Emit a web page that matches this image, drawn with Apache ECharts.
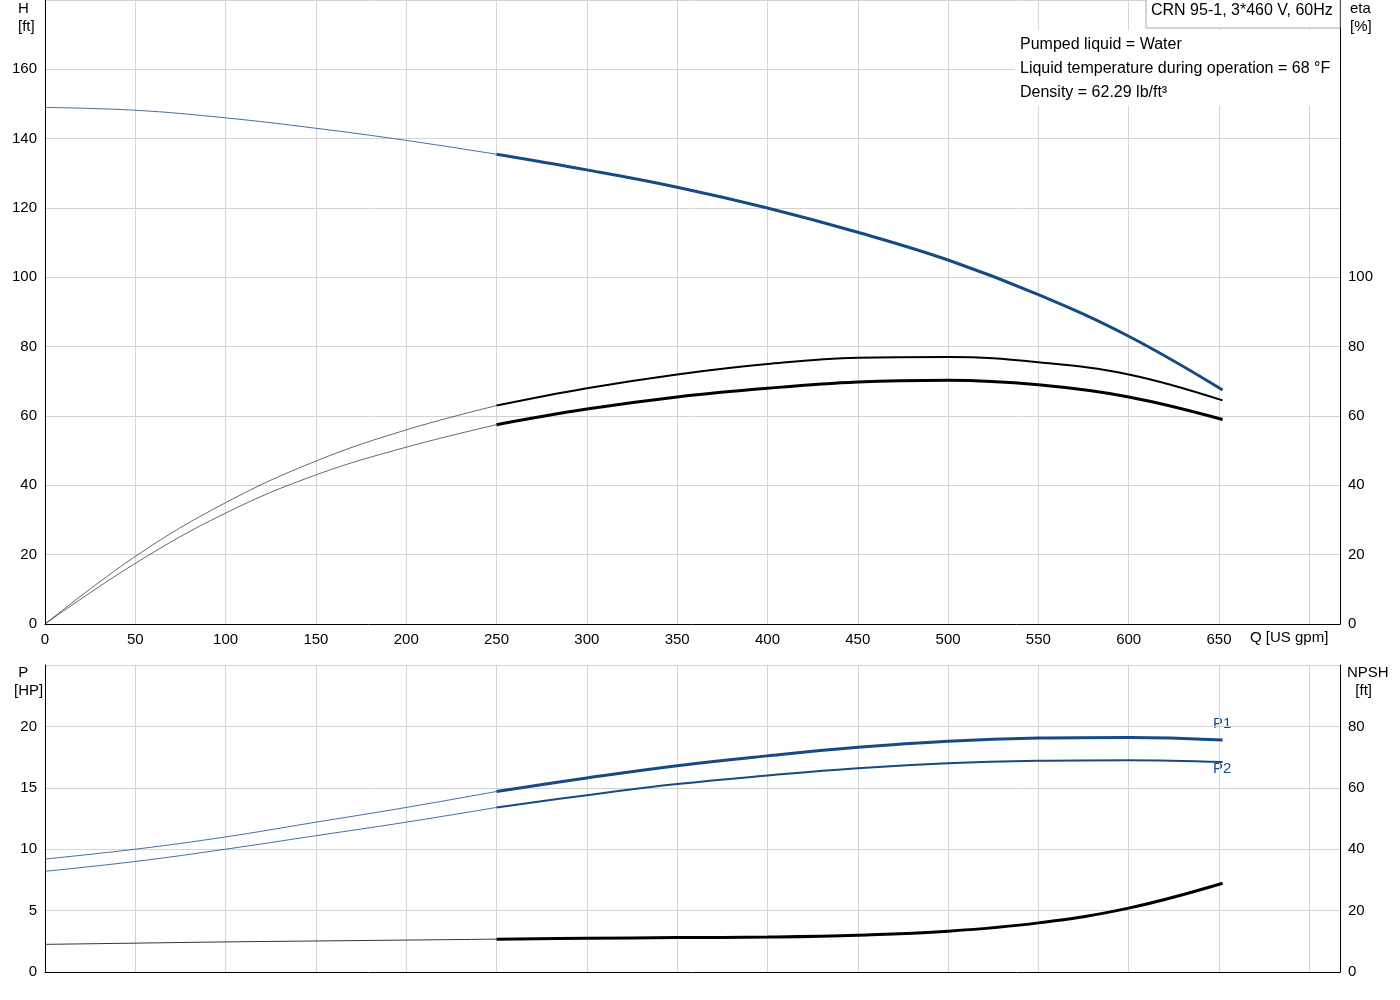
<!DOCTYPE html><html><head><meta charset="utf-8">
<script src="https://cdn.jsdelivr.net/npm/echarts@6/dist/echarts.min.js"></script>
<style>body{margin:0}#c{width:1400px;height:1000px}</style></head><body><div id="c"></div><script>
const q = [0,50,100,150,200,250,300,350,400,450,500,550,600,652];
const H = [149,148.2,146,143,139.5,135.5,131,126,120,113,105,95,83,67.5];
const eta1 = [0,19.5,35,47,56,63,68,72,75,76.8,77,75.5,72,64.5];
const eta2 = [0,17.5,32,43,51,57.5,62,65.5,68,69.8,70.3,69,65.5,59];
const P1 = [9.2,10,11,12.2,13.4,14.7,15.8,16.8,17.6,18.3,18.8,19.05,19.1,18.9];
const P2 = [8.2,9,10,11.1,12.2,13.4,14.4,15.3,16.0,16.6,17.0,17.2,17.25,17.1];
const npsh = [9,9.4,9.8,10.1,10.4,10.7,11,11.2,11.4,12,13.3,16,20.8,28.9];
const BLUE='#174a84', F='Arial, Liberation Sans, sans-serif';
const pairs=(ys,a,b)=>q.map((x,i)=>[x,ys[i]]).filter(p=>p[0]>=a&&p[0]<=b);
function seg(name,ys,xi,yi,color,w1,w2){return [
 {type:'line',name,xAxisIndex:xi,yAxisIndex:yi,data:pairs(ys,0,250),smooth:0.4,symbol:'none',lineStyle:{color,width:w1}},
 {type:'line',name,xAxisIndex:xi,yAxisIndex:yi,data:pairs(ys,250,700),smooth:0.4,symbol:'none',lineStyle:{color,width:w2}}];}
const gl={show:true,lineStyle:{color:'#d4d4d4'}};
const lbl={color:'#000',fontSize:15,fontFamily:F};
const ch=echarts.init(document.getElementById('c'));
ch.setOption({animation:false,
grid:[{left:45,right:60,top:0,height:624},{left:45,right:60,top:665,height:307}],
xAxis:[{gridIndex:0,type:'value',min:0,max:717,interval:50,axisLine:{lineStyle:{color:'#000'}},axisTick:{show:false},splitLine:gl,
  axisLabel:{...lbl,formatter:v=>v>650?'':v}},
 {gridIndex:1,type:'value',min:0,max:717,interval:50,axisLine:{lineStyle:{color:'#000'}},axisTick:{show:false},splitLine:gl,axisLabel:{show:false}}],
yAxis:[{gridIndex:0,min:0,max:180,interval:20,axisLine:{show:true,lineStyle:{color:'#000'}},axisTick:{show:false},splitLine:gl,axisLabel:{...lbl,formatter:v=>v>160?'':v}},
 {gridIndex:0,position:'right',min:0,max:180,interval:20,axisLine:{show:true,lineStyle:{color:'#000'}},axisTick:{show:false},splitLine:{show:false},axisLabel:{...lbl,formatter:v=>v>100?'':v}},
 {gridIndex:1,min:0,max:25,interval:5,axisLine:{show:true,lineStyle:{color:'#000'}},axisTick:{show:false},splitLine:gl,axisLabel:{...lbl,formatter:v=>v>20?'':v}},
 {gridIndex:1,position:'right',min:0,max:100,interval:20,axisLine:{show:true,lineStyle:{color:'#000'}},axisTick:{show:false},splitLine:{show:false},axisLabel:{...lbl,formatter:v=>v>80?'':v}}],
series:[...seg('H',H,0,0,BLUE,0.8,3),...seg('eta1',eta1,0,1,'#000',0.6,2),...seg('eta2',eta2,0,1,'#000',0.6,3),
 ...seg('P1',P1,1,2,BLUE,0.8,3),...seg('P2',P2,1,2,BLUE,0.8,2),...seg('NPSH',npsh,1,3,'#000',0.8,3)],
graphic:[
 {type:'text',left:18,top:0,style:{text:'H\n[ft]',font:'15px '+F,align:'center',lineHeight:18}},
 {type:'text',left:1350,top:0,style:{text:'eta\n[%]',font:'15px '+F,lineHeight:18}},
 {type:'text',left:1250,top:630,style:{text:'Q [US gpm]',font:'15px '+F}},
 {type:'text',left:14,top:664,style:{text:' P\n[HP]',font:'15px '+F,lineHeight:18}},
 {type:'text',left:1347,top:664,style:{text:'NPSH\n  [ft]',font:'15px '+F,lineHeight:18}},
 {type:'rect',z:100,shape:{x:1146,y:-1,width:194,height:29},style:{fill:'#fff',stroke:'#aaa'}},
 {type:'text',z:101,left:1151,top:3,style:{text:'CRN 95-1, 3*460 V, 60Hz',font:'16px '+F}},
 {type:'rect',z:100,shape:{x:1015,y:30,width:324,height:76},style:{fill:'#fff'}},
 {type:'text',z:101,left:1020,top:33,style:{text:'Pumped liquid = Water\nLiquid temperature during operation = 68 °F\nDensity = 62.29 lb/ft³',font:'16px '+F,lineHeight:24}},
 {type:'text',left:1213,top:716,style:{text:'P1',font:'15px '+F,fill:BLUE}},
 {type:'text',left:1213,top:761,style:{text:'P2',font:'15px '+F,fill:BLUE}}
]});
</script></body></html>
